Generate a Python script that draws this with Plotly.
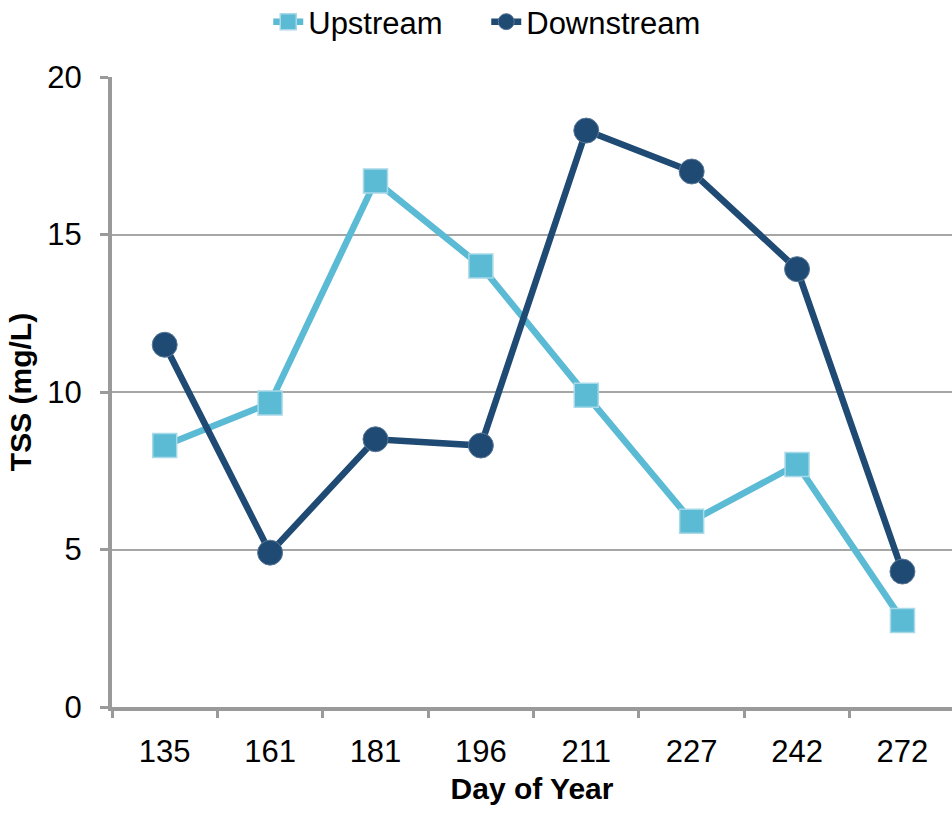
import plotly.graph_objects as go

days = ["135", "161", "181", "196", "211", "227", "242", "272"]
upstream = [8.3, 9.65, 16.7, 14.0, 9.9, 5.9, 7.7, 2.75]
downstream = [11.5, 4.9, 8.5, 8.3, 18.3, 17.0, 13.9, 4.3]
y_ticks = [0, 5, 10, 15, 20]

up_color = "#5BBAD4"
down_color = "#1F4A74"
axis_color = "#9A9A9A"

fig = go.Figure()
fig.add_trace(go.Scatter(
    x=days, y=upstream, name="Upstream", mode="lines+markers",
    line=dict(color=up_color, width=6.5),
    marker=dict(symbol="square", size=24, color=up_color,
                line=dict(color="#A8D9E8", width=1.5)),
))
fig.add_trace(go.Scatter(
    x=days, y=downstream, name="Downstream", mode="lines+markers",
    line=dict(color=down_color, width=6.5),
    marker=dict(symbol="circle", size=25, color=down_color,
                line=dict(color="#5A7896", width=1)),
))

fig.update_layout(
    width=952, height=815,
    margin=dict(l=112, r=0, t=77, b=108, autoexpand=False),
    paper_bgcolor="white", plot_bgcolor="white",
    font=dict(family="Liberation Sans, Arial, sans-serif", size=31, color="black"),
    showlegend=True,
    legend=dict(orientation="h", x=0.186, xanchor="left", y=1.0873, yanchor="middle",
                font=dict(size=31), itemwidth=30, entrywidth=173,
                traceorder="normal", bgcolor="rgba(0,0,0,0)"),
    xaxis=dict(
        type="category", range=[-0.5, 7.47],
        showline=True, linecolor=axis_color, linewidth=4,
        ticks="outside", tickson="boundaries", ticklen=7, tickwidth=3, tickcolor=axis_color,
        ticklabelstandoff=14,
        showgrid=False, automargin=False,
        title=dict(text="<b>Day of Year</b>", font=dict(size=30), standoff=11),
        tickfont=dict(size=31),
    ),
    yaxis=dict(
        range=[0, 20], tickvals=y_ticks,
        showline=True, linecolor=axis_color, linewidth=4,
        ticks="outside", ticklen=8, tickwidth=3, tickcolor=axis_color,
        ticklabelstandoff=12,
        showgrid=True, gridcolor="#A6A6A6", gridwidth=1.5,
        zeroline=False, automargin=False,
        title=dict(text="<b>TSS (mg/L)</b>", font=dict(size=30), standoff=8),
        tickfont=dict(size=31),
    ),
)

fig.write_html("out.html", config={"displayModeBar": False},
               post_script="document.body.style.margin='0';")
